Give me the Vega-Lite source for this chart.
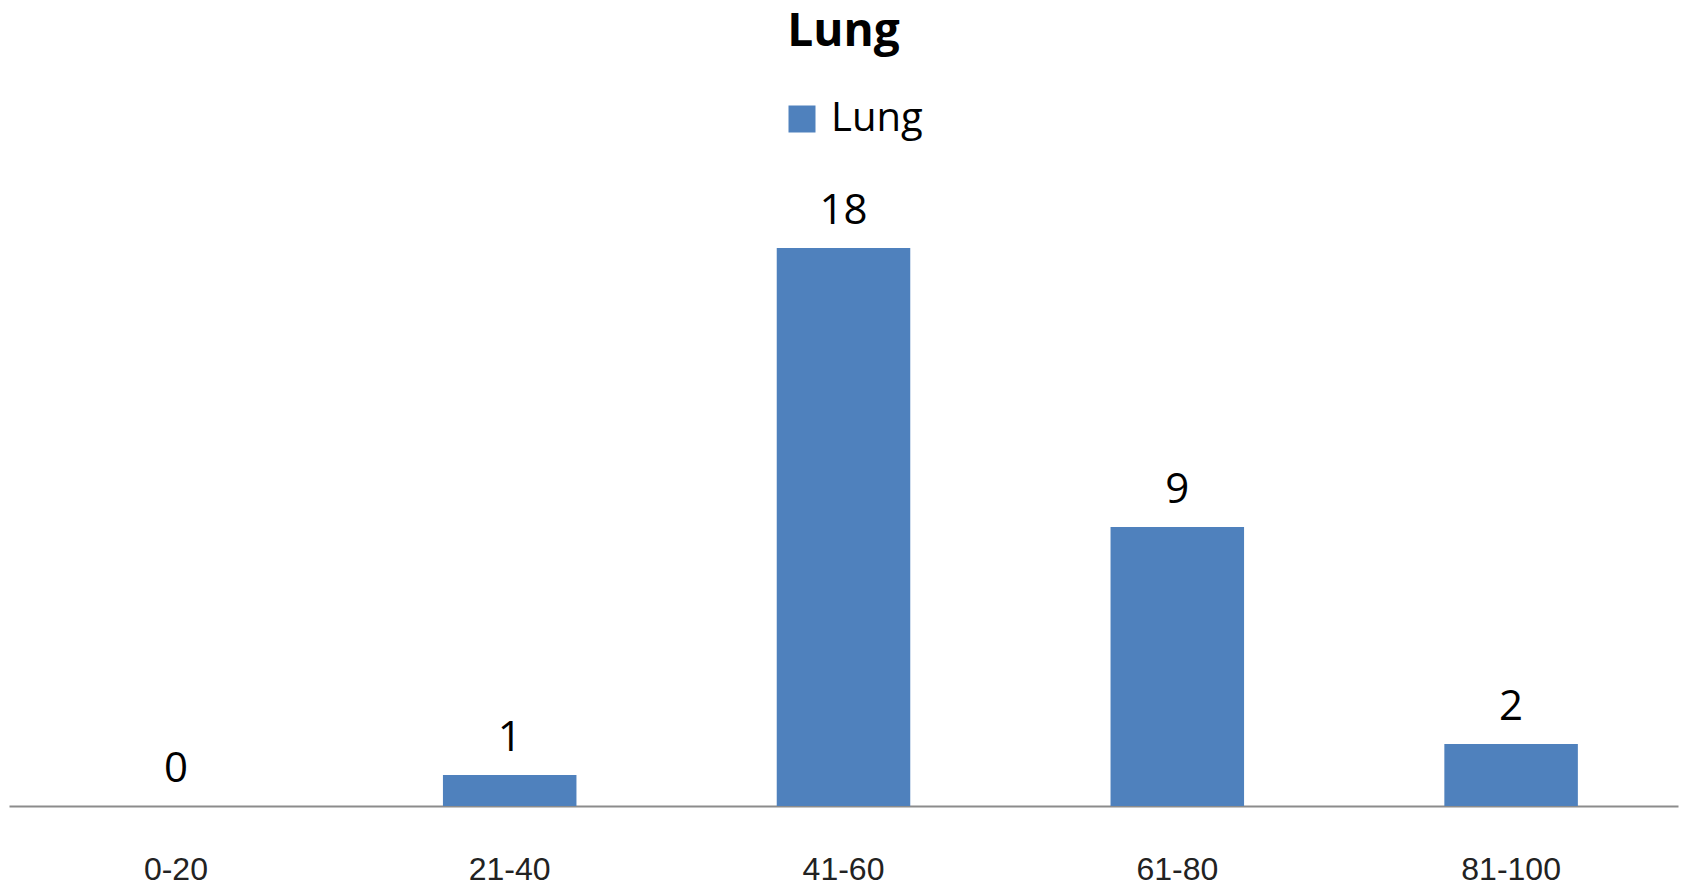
{
  "$schema": "https://vega.github.io/schema/vega-lite/v6.json",
  "width": 1669,
  "height": 620,
  "autosize": {"type": "none"},
  "padding": {"left": 9, "top": 186, "right": 5, "bottom": 82},
  "background": "white",
  "title": {"text": "Lung", "font": "Open Sans", "fontWeight": "bold", "fontSize": 46, "color": "black", "anchor": "middle", "offset": 43},
  "data": {"values": [
    {"range": "0-20", "count": 0, "series": "Lung"},
    {"range": "21-40", "count": 1, "series": "Lung"},
    {"range": "41-60", "count": 18, "series": "Lung"},
    {"range": "61-80", "count": 9, "series": "Lung"},
    {"range": "81-100", "count": 2, "series": "Lung"}
  ]},
  "encoding": {
    "x": {"field": "range", "type": "nominal", "sort": null,
      "scale": {"paddingInner": 0.6, "paddingOuter": 0.3},
      "axis": {"title": null, "labelAngle": 0, "ticks": false, "tickSize": 0, "labelPadding": 48, "labelBaseline": "top",
        "labelFont": "Liberation Sans", "labelFontSize": 32, "labelColor": "#222222",
        "domainColor": "#8c8c8c", "domainWidth": 2, "grid": false}},
    "y": {"field": "count", "type": "quantitative", "scale": {"domain": [0, 20]}, "axis": null}
  },
  "layer": [
    {"mark": {"type": "bar", "color": "#4F81BD"},
     "encoding": {"color": {"field": "series", "type": "nominal", "scale": {"range": ["#4F81BD"]},
       "legend": {"title": null, "orient": "none", "legendX": 773, "legendY": -87, "symbolType": "square", "symbolSize": 729, "symbolStrokeWidth": 0,
         "labelFont": "Open Sans", "labelFontSize": 40, "labelColor": "black", "labelOffset": 9}}}},
    {"mark": {"type": "text", "baseline": "alphabetic", "dy": -24, "font": "Open Sans", "fontSize": 42, "color": "black"},
     "encoding": {"text": {"field": "count", "type": "quantitative"}}}
  ],
  "config": {"view": {"stroke": null}}
}
